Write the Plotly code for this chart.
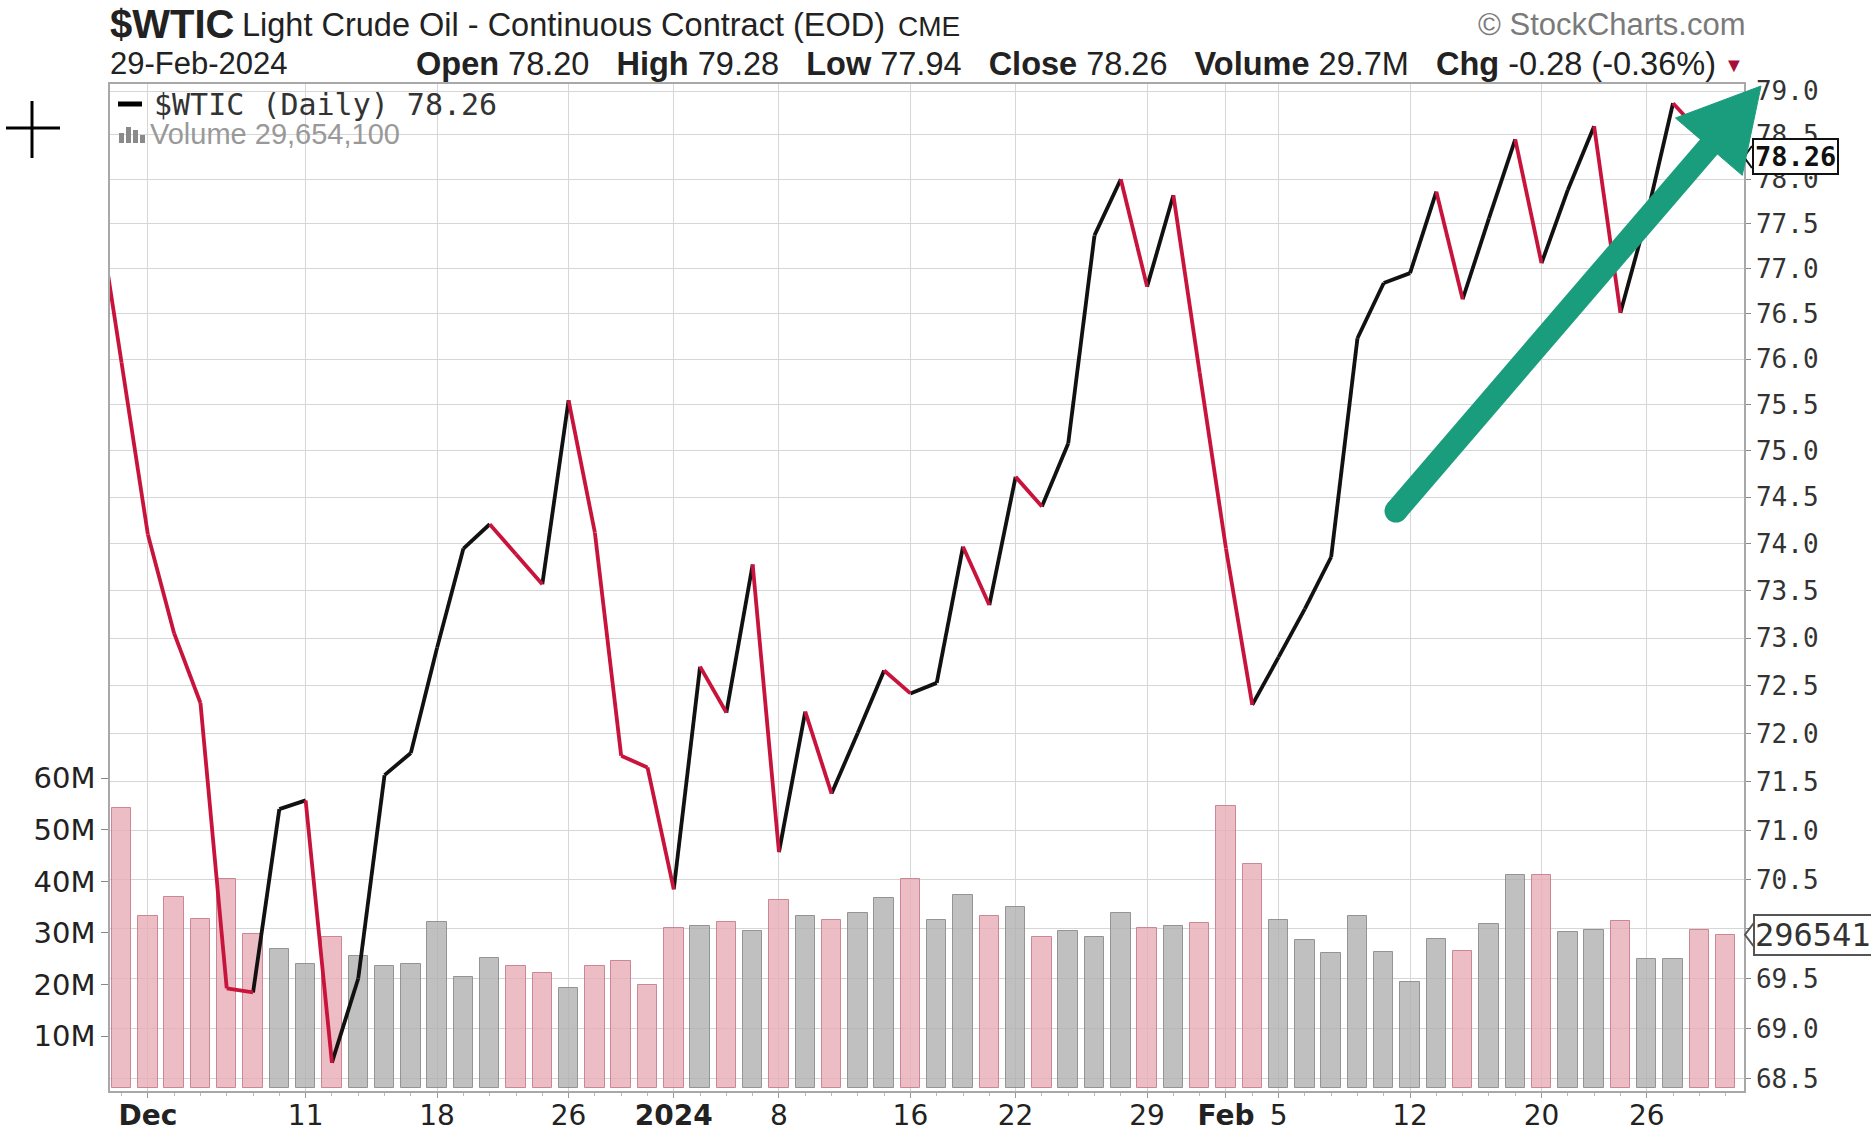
import math
import plotly.graph_objects as go

# ---------------- data ----------------
dates = [
    "2023-11-29", "2023-11-30", "2023-12-01", "2023-12-04", "2023-12-05", "2023-12-06", "2023-12-07",
    "2023-12-08", "2023-12-11", "2023-12-12", "2023-12-13", "2023-12-14", "2023-12-15", "2023-12-18",
    "2023-12-19", "2023-12-20", "2023-12-21", "2023-12-22", "2023-12-26", "2023-12-27", "2023-12-28",
    "2023-12-29", "2024-01-02", "2024-01-03", "2024-01-04", "2024-01-05", "2024-01-08", "2024-01-09",
    "2024-01-10", "2024-01-11", "2024-01-12", "2024-01-16", "2024-01-17", "2024-01-18", "2024-01-19",
    "2024-01-22", "2024-01-23", "2024-01-24", "2024-01-25", "2024-01-26", "2024-01-29", "2024-01-30",
    "2024-01-31", "2024-02-01", "2024-02-02", "2024-02-05", "2024-02-06", "2024-02-07", "2024-02-08",
    "2024-02-09", "2024-02-12", "2024-02-13", "2024-02-14", "2024-02-15", "2024-02-16", "2024-02-20",
    "2024-02-21", "2024-02-22", "2024-02-23", "2024-02-26", "2024-02-27", "2024-02-28", "2024-02-29",
]

close = [
    77.86, 75.96, 74.10, 73.05, 72.32, 69.40, 69.36, 71.22, 71.31, 68.66,
    69.50, 71.57, 71.80, 72.90, 73.95, 74.21, 73.89, 73.57, 75.55, 74.12,
    71.77, 71.65, 70.40, 72.70, 72.22, 73.78, 70.78, 72.23, 71.38, 72.01,
    72.66, 72.42, 72.53, 73.97, 73.35, 74.72, 74.40, 75.08, 77.37, 78.00,
    76.80, 77.82, 75.85, 73.95, 72.30, 72.80, 73.31, 73.86, 76.23, 76.84,
    76.95, 77.86, 76.66, 77.56, 78.45, 77.06, 77.88, 78.60, 76.51, 77.58,
    78.86, 78.54, 78.26,
]

# volume in millions of contracts (first date is before the visible window)
volume_m = [
    None,
    54.2, 33.3, 36.9, 32.7, 40.5, 29.8, 26.8, 23.9, 29.3, 25.6,
    23.5, 23.9, 32.2, 21.5, 25.2, 23.5, 22.2, 19.3, 23.5, 24.5,
    19.9, 30.9, 31.4, 32.1, 30.3, 36.3, 33.2, 32.6, 33.9, 36.8,
    40.5, 32.6, 37.4, 33.2, 35.1, 29.2, 30.3, 29.2, 33.8, 30.9,
    31.4, 32.0, 54.7, 43.4, 32.6, 28.7, 26.2, 33.2, 26.3, 20.5,
    28.9, 26.5, 31.7, 41.3, 41.3, 30.1, 30.5, 32.3, 24.9, 24.9,
    30.5, 29.6541,
]

x_tick_dates = ["2023-12-01", "2023-12-11", "2023-12-18", "2023-12-26", "2024-01-02", "2024-01-08",
                "2024-01-16", "2024-01-22", "2024-01-29", "2024-02-01", "2024-02-05", "2024-02-12",
                "2024-02-20", "2024-02-26"]
x_tick_labels = ["<b>Dec</b>", "11", "18", "26", "<b>2024</b>", "8", "16", "22", "29",
                 "<b>Feb</b>", "5", "12", "20", "26"]
price_ticks = [68.5, 69.0, 69.5, 70.0, 70.5, 71.0, 71.5, 72.0, 72.5, 73.0, 73.5,
               74.0, 74.5, 75.0, 75.5, 76.0, 76.5, 77.0, 77.5, 78.0, 78.5, 79.0]
volume_ticks_m = [10, 20, 30, 40, 50, 60]

# ---------------- derived ----------------
xi = list(range(-1, len(close) - 1))  # trading-day index, 0 = 30-Nov
pos = {d: i for d, i in zip(dates, xi)}
tick_pos = [pos[d] for d in x_tick_dates]

UP_COL = "#111111"
DN_COL = "#c8143c"

rx, ry, bx, by = [], [], [], []
for i in range(len(close) - 1):
    seg_x = [xi[i], xi[i + 1], None]
    seg_y = [close[i], close[i + 1], None]
    if close[i + 1] < close[i]:
        rx += seg_x; ry += seg_y
    else:
        bx += seg_x; by += seg_y

bar_x, bar_y, bar_fill, bar_line = [], [], [], []
for i in range(1, len(close)):
    bar_x.append(xi[i])
    bar_y.append(volume_m[i] * 1e6)
    down = close[i] < close[i - 1]
    bar_fill.append("rgba(231,173,183,0.8)" if down else "rgba(176,176,176,0.8)")
    bar_line.append("rgba(200,125,140,0.9)" if down else "rgba(140,140,140,0.9)")

# ---------------- figure / layout geometry ----------------
W, H = 1871, 1139
L, R, T, B = 110, 1744, 84, 1091  # plot area in pixels
VOL_RANGE = [-0.66e6, 194.7e6]


def px(x):
    return (x - L) / (R - L)


def py(y):
    return (B - y) / (B - T)


fig = go.Figure()

fig.add_trace(go.Bar(
    x=bar_x, y=bar_y, yaxis="y", width=0.74,
    marker=dict(color=bar_fill, line=dict(color=bar_line, width=1)),
    hoverinfo="skip", showlegend=False,
))
fig.add_trace(go.Scatter(
    x=bx, y=by, yaxis="y2", mode="lines",
    line=dict(color=UP_COL, width=3.8), hoverinfo="skip", showlegend=False,
))
fig.add_trace(go.Scatter(
    x=rx, y=ry, yaxis="y2", mode="lines",
    line=dict(color=DN_COL, width=3.8), hoverinfo="skip", showlegend=False,
))

SANS = "Liberation Sans, Arial, sans-serif"
VERD = "DejaVu Sans, Verdana, sans-serif"
MONO = "DejaVu Sans Mono, monospace"

fig.update_layout(
    width=W, height=H,
    margin=dict(l=L, r=W - R, t=T, b=H - B, pad=0, autoexpand=False),
    paper_bgcolor="white", plot_bgcolor="white",
    bargap=0,
    xaxis=dict(
        range=[-0.44, 61.7], tickmode="array", tickvals=tick_pos, ticktext=x_tick_labels,
        showgrid=True, gridcolor="#d6d6d6", gridwidth=1.3,
        showline=True, linecolor="#a8a8a8", linewidth=1.5, mirror=True,
        ticks="outside", ticklen=5, tickcolor="#999", ticklabelstandoff=-6,
        minor=dict(dtick=1, tick0=0, ticks="outside", ticklen=3, tickcolor="#bbb", showgrid=False),
        tickfont=dict(family=VERD, size=28, color="#222"),
        zeroline=False, fixedrange=True, automargin=False,
    ),
    yaxis=dict(
        side="left", range=VOL_RANGE, tickmode="array",
        tickvals=[v * 1e6 for v in volume_ticks_m], ticktext=[f"{v}M" for v in volume_ticks_m],
        showgrid=False, zeroline=False, showline=True, linecolor="#a8a8a8", linewidth=1.5,
        ticks="outside", ticklen=7, tickcolor="#888",
        tickfont=dict(family=VERD, size=29, color="#222"), automargin=False,
    ),
    yaxis2=dict(
        type="log", side="right", overlaying="y",
        range=[math.log10(68.38), math.log10(79.08)],
        tickmode="array", tickvals=price_ticks, ticktext=[f"{v:.1f}" for v in price_ticks],
        showgrid=True, gridcolor="#d6d6d6", gridwidth=1.3, zeroline=False,
        showline=True, linecolor="#a8a8a8", linewidth=1.5,
        ticks="outside", ticklen=5, tickcolor="#888",
        tickfont=dict(family=MONO, size=26, color="#333"), automargin=False,
    ),
)

GAP = "\u00a0\u00a0\u00a0"
ann = []
# header line 1
ann.append(dict(x=px(108), y=py(24), xref="paper", yref="paper", xanchor="left", yanchor="middle",
                text="<b>$WTIC</b>", showarrow=False, font=dict(family=SANS, size=40, color="#222")))
ann.append(dict(x=px(240), y=py(25), xref="paper", yref="paper", xanchor="left", yanchor="middle",
                text="Light Crude Oil - Continuous Contract (EOD)", showarrow=False,
                font=dict(family=SANS, size=32.5, color="#222")))
ann.append(dict(x=px(896), y=py(26), xref="paper", yref="paper", xanchor="left", yanchor="middle",
                text="CME", showarrow=False, font=dict(family=SANS, size=28, color="#222")))
ann.append(dict(x=px(1747), y=py(25), xref="paper", yref="paper", xanchor="right", yanchor="middle",
                text="© StockCharts.com", showarrow=False, font=dict(family=SANS, size=31, color="#7a7a7a")))
# header line 2
ann.append(dict(x=px(108), y=py(64), xref="paper", yref="paper", xanchor="left", yanchor="middle",
                text="29-Feb-2024", showarrow=False, font=dict(family=SANS, size=31, color="#222")))
ann.append(dict(x=px(1718), y=py(64), xref="paper", yref="paper", xanchor="right", yanchor="middle",
                text=f"<b>Open</b> 78.20{GAP}<b>High</b> 79.28{GAP}<b>Low</b> 77.94{GAP}<b>Close</b> 78.26{GAP}"
                     f"<b>Volume</b> 29.7M{GAP}<b>Chg</b> -0.28 (-0.36%)",
                showarrow=False, font=dict(family=SANS, size=32.5, color="#222")))
ann.append(dict(x=px(1734), y=py(65), xref="paper", yref="paper", xanchor="center", yanchor="middle",
                text="▼", showarrow=False, font=dict(family=SANS, size=20, color="#a8103a")))
# in-chart legend
ann.append(dict(x=px(152), y=py(104), xref="paper", yref="paper", xanchor="left", yanchor="middle",
                text=f"$WTIC (Daily) {close[-1]:.2f}", showarrow=False,
                font=dict(family=MONO, size=30, color="#333")))
ann.append(dict(x=px(148), y=py(134), xref="paper", yref="paper", xanchor="left", yanchor="middle",
                text=f"Volume {int(round(volume_m[-1] * 1e6)):,}", showarrow=False,
                font=dict(family=SANS, size=29, color="#999")))
# last value boxes
ann.append(dict(x=px(1752), y=math.log10(close[-1]), xref="paper", yref="y2", xanchor="left",
                yanchor="middle", text=f"<b>{close[-1]:.2f}</b>", showarrow=False,
                font=dict(family=MONO, size=27, color="#111"), bgcolor="white",
                bordercolor="#111", borderwidth=2, borderpad=1))
ann.append(dict(x=px(1753), y=volume_m[-1] * 1e6, xref="paper", yref="y", xanchor="left",
                yanchor="middle", text=f"{int(round(volume_m[-1] * 1e6))}", showarrow=False,
                font=dict(family=MONO, size=32, color="#333"), bgcolor="white",
                bordercolor="#555", borderwidth=2, borderpad=0))

shapes = []
# crosshair cursor
shapes.append(dict(type="line", xref="paper", yref="paper", x0=px(6), x1=px(60), y0=py(128), y1=py(128),
                   line=dict(color="black", width=3)))
shapes.append(dict(type="line", xref="paper", yref="paper", x0=px(32), x1=px(32), y0=py(101), y1=py(158),
                   line=dict(color="black", width=3)))
# legend dash
shapes.append(dict(type="line", xref="paper", yref="paper", x0=px(118), x1=px(142), y0=py(104), y1=py(104),
                   line=dict(color="black", width=5)))
# volume icon
for (x0, x1, y0) in [(119, 124, 133), (126, 131, 127), (133, 138, 130), (140, 145, 135)]:
    shapes.append(dict(type="rect", xref="paper", yref="paper", x0=px(x0), x1=px(x1), y0=py(143), y1=py(y0),
                       fillcolor="#8a8a8a", line=dict(width=0)))
# pointer notches on the last-value boxes
shapes.append(dict(type="path", xref="paper", yref="paper",
                   path=f"M {px(1752)},{py(146)} L {px(1744)},{py(157)} L {px(1752)},{py(168)}",
                   line=dict(color="#111", width=2)))
vol_py = B - (volume_m[-1] * 1e6 - VOL_RANGE[0]) / (VOL_RANGE[1] - VOL_RANGE[0]) * (B - T)
shapes.append(dict(type="path", xref="paper", yref="paper",
                   path=f"M {px(1754)},{py(vol_py - 12)} L {px(1745)},{py(vol_py)} L {px(1754)},{py(vol_py + 12)}",
                   line=dict(color="#555", width=2)))
# green trend arrow
GREEN = "#1a9d7c"
tail = (1396, 511)
tip = (1761, 86)
dx, dy = tip[0] - tail[0], tip[1] - tail[1]
ln = math.hypot(dx, dy)
ux, uy = dx / ln, dy / ln
pxv, pyv = -uy, ux
head_len, head_half = 80, 44
base = (tip[0] - ux * head_len, tip[1] - uy * head_len)
shapes.append(dict(type="line", xref="paper", yref="paper",
                   x0=px(tail[0]), y0=py(tail[1]), x1=px(base[0] + ux * 4), y1=py(base[1] + uy * 4),
                   line=dict(color=GREEN, width=23)))
shapes.append(dict(type="circle", xref="paper", yref="paper",
                   x0=px(tail[0] - 11.5), x1=px(tail[0] + 11.5), y0=py(tail[1] - 11.5), y1=py(tail[1] + 11.5),
                   fillcolor=GREEN, line=dict(width=0)))
w1 = (base[0] + pxv * head_half, base[1] + pyv * head_half)
w2 = (base[0] - pxv * head_half, base[1] - pyv * head_half)
path = (f"M {px(tip[0])},{py(tip[1])} L {px(w1[0])},{py(w1[1])} "
        f"L {px(w2[0])},{py(w2[1])} Z")
shapes.append(dict(type="path", xref="paper", yref="paper", path=path,
                   fillcolor=GREEN, line=dict(color=GREEN, width=1)))

fig.update_layout(annotations=ann, shapes=shapes)

fig.write_html("out.html", config={"displayModeBar": False},
               post_script="document.body.style.margin='0';document.body.style.overflow='hidden';")
